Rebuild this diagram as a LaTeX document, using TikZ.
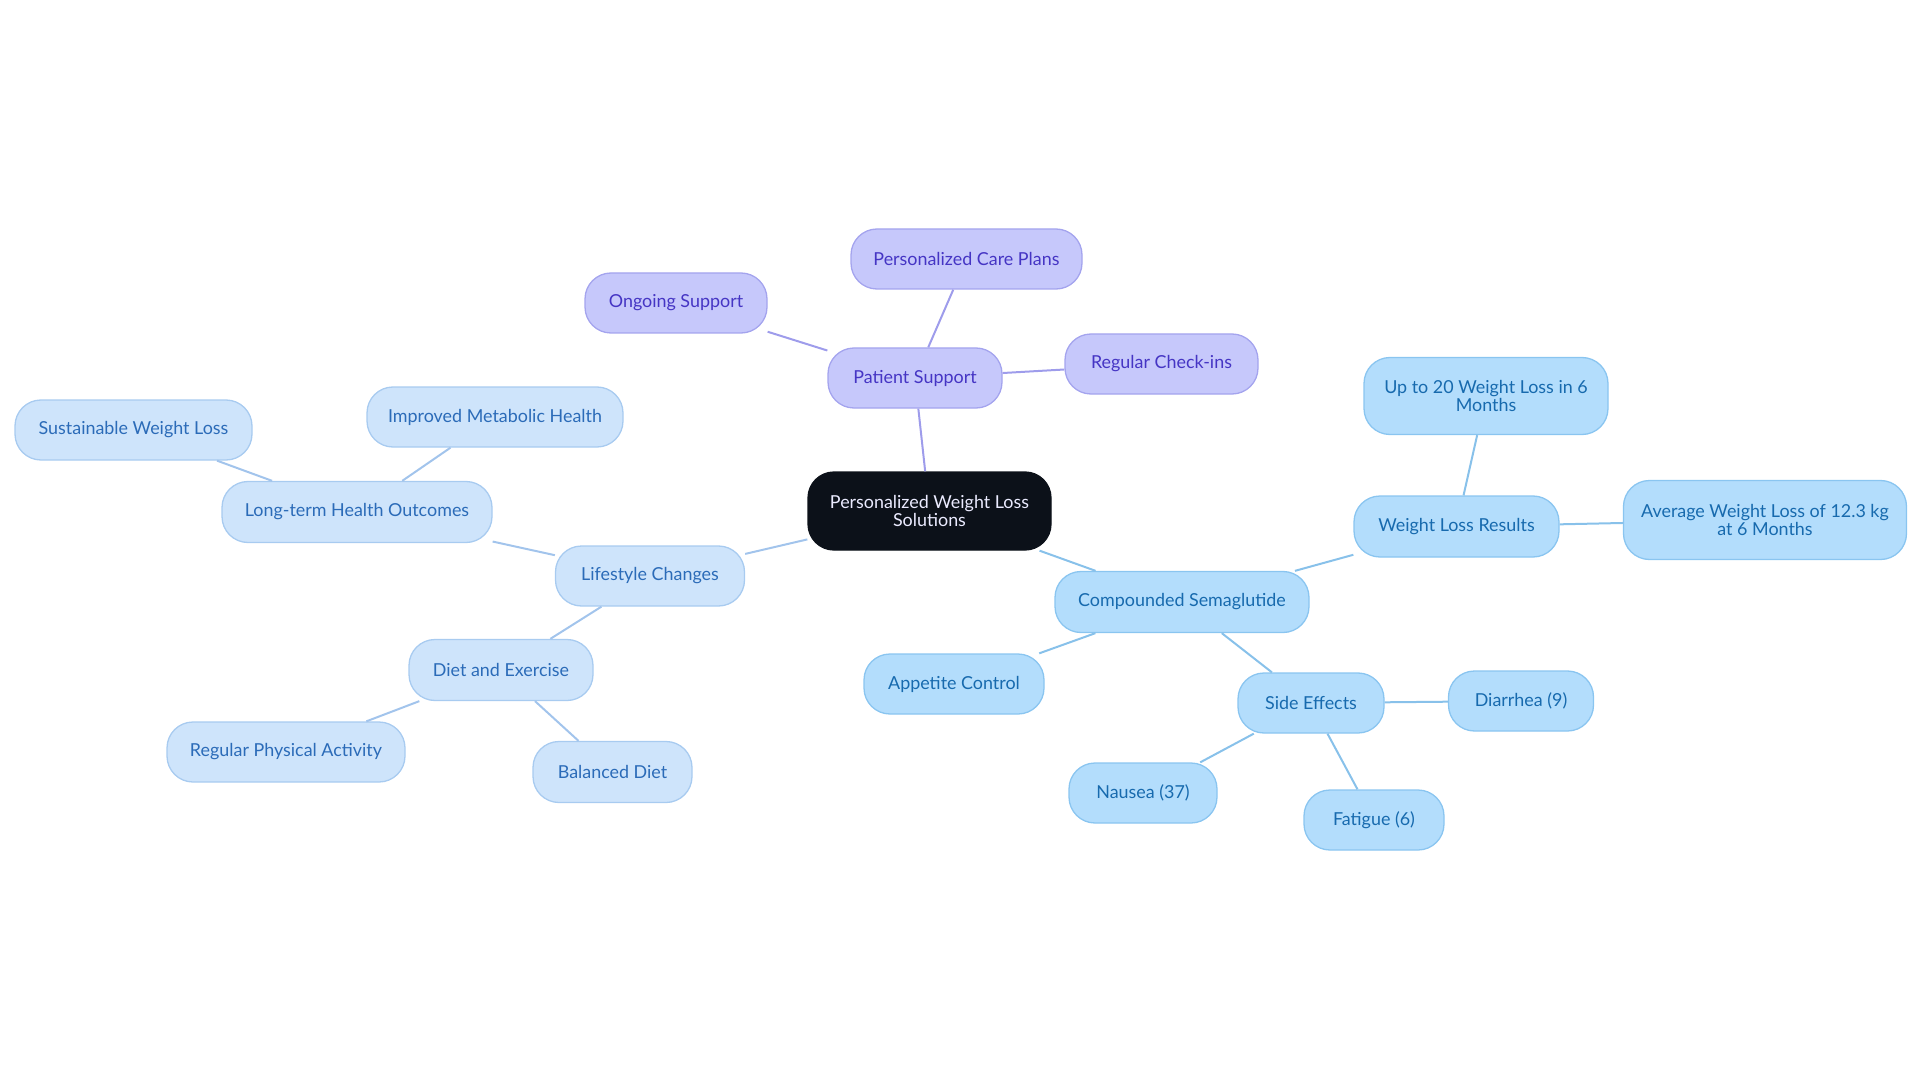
\documentclass[tikz,border=0pt]{standalone}
\usepackage{fontspec}
\setmainfont{Lato}
\definecolor{pfill}{HTML}{C6C8FB}
\definecolor{pdraw}{HTML}{A4A4EE}
\definecolor{ptext}{HTML}{4535C4}
\definecolor{pline}{HTML}{9E9CEB}
\definecolor{lfill}{HTML}{CEE4FB}
\definecolor{ldraw}{HTML}{A8CBF0}
\definecolor{ltext}{HTML}{2B6BB8}
\definecolor{lline}{HTML}{A2C4EC}
\definecolor{sfill}{HTML}{B3DDFC}
\definecolor{sdraw}{HTML}{8AC5F0}
\definecolor{stext}{HTML}{176AAE}
\definecolor{sline}{HTML}{88C1EA}
\definecolor{rootfill}{HTML}{0C1119}
\tikzset{
  box/.style={rounded corners=26pt, inner sep=0pt, align=center, line width=1.3pt,
    font=\fontsize{17.9}{18.4}\selectfont},
  rootbox/.style={box, fill=rootfill, draw=rootfill, text=white!92!blue},
  pbox/.style={box, fill=pfill, draw=pdraw, text=ptext},
  lbox/.style={box, fill=lfill, draw=ldraw, text=ltext},
  sbox/.style={box, fill=sfill, draw=sdraw, text=stext},
  pcon/.style={draw=pline, line width=2pt},
  lcon/.style={draw=lline, line width=2pt},
  scon/.style={draw=sline, line width=2pt},
}
\begin{document}
\begin{tikzpicture}[x=1pt,y=-1pt]
\useasboundingbox (0,0) rectangle (1920,1083);
% root
\node[rootbox, minimum width=243pt, minimum height=78pt] (root) at (929.5,511) {Personalized Weight Loss\\Solutions};
% patient support
\node[pbox, minimum width=174pt, minimum height=60pt] (ps) at (915,378) {Patient Support};
\node[pbox, minimum width=231pt, minimum height=60pt] (pcp) at (966.5,259) {Personalized Care Plans};
\node[pbox, minimum width=182pt, minimum height=60pt] (os) at (676,303) {Ongoing Support};
\node[pbox, minimum width=193pt, minimum height=60pt] (rci) at (1161.5,364) {Regular Check-ins};
% lifestyle
\node[lbox, minimum width=189pt, minimum height=60pt] (lc) at (650,576) {Lifestyle Changes};
\node[lbox, minimum width=270pt, minimum height=61pt] (lho) at (357,512) {Long-term Health Outcomes};
\node[lbox, minimum width=256pt, minimum height=60pt] (imh) at (495,417) {Improved Metabolic Health};
\node[lbox, minimum width=237pt, minimum height=60pt] (swl) at (133.5,430) {Sustainable Weight Loss};
\node[lbox, minimum width=184pt, minimum height=61pt] (de) at (501,670) {Diet and Exercise};
\node[lbox, minimum width=238pt, minimum height=60pt] (rpa) at (286,752) {Regular Physical Activity};
\node[lbox, minimum width=159pt, minimum height=61pt] (bd) at (612.5,772) {Balanced Diet};
% semaglutide
\node[sbox, minimum width=254pt, minimum height=61pt] (cs) at (1182,602) {Compounded Semaglutide};
\node[sbox, minimum width=180pt, minimum height=60pt] (ac) at (954,684) {Appetite Control};
\node[sbox, minimum width=205pt, minimum height=61pt] (wlr) at (1456.5,526.5) {Weight Loss Results};
\node[sbox, minimum width=244pt, minimum height=77pt] (up) at (1486,396) {Up to 20 Weight Loss in 6\\Months};
\node[sbox, minimum width=283pt, minimum height=79pt] (avg) at (1765,520) {Average Weight Loss of 12.3 kg\\at 6 Months};
\node[sbox, minimum width=146pt, minimum height=60pt] (se) at (1311,703) {Side Effects};
\node[sbox, minimum width=145pt, minimum height=60pt] (dia) at (1521,701) {Diarrhea (9)};
\node[sbox, minimum width=148pt, minimum height=60pt] (nau) at (1143,793) {Nausea (37)};
\node[sbox, minimum width=140pt, minimum height=60pt] (fat) at (1374,820) {Fatigue (6)};
% connectors
\draw[pcon] (root) -- (ps);
\draw[pcon] (ps) -- (pcp);
\draw[pcon] (ps) -- (os);
\draw[pcon] (ps) -- (rci);
\draw[lcon] (root) -- (lc);
\draw[lcon] (lc) -- (lho);
\draw[lcon] (lho) -- (imh);
\draw[lcon] (lho) -- (swl);
\draw[lcon] (lc) -- (de);
\draw[lcon] (de) -- (rpa);
\draw[lcon] (de) -- (bd);
\draw[scon] (root) -- (cs);
\draw[scon] (cs) -- (ac);
\draw[scon] (cs) -- (wlr);
\draw[scon] (wlr) -- (up);
\draw[scon] (wlr) -- (avg);
\draw[scon] (cs) -- (se);
\draw[scon] (se) -- (dia);
\draw[scon] (se) -- (nau);
\draw[scon] (se) -- (fat);
\end{tikzpicture}
\end{document}
